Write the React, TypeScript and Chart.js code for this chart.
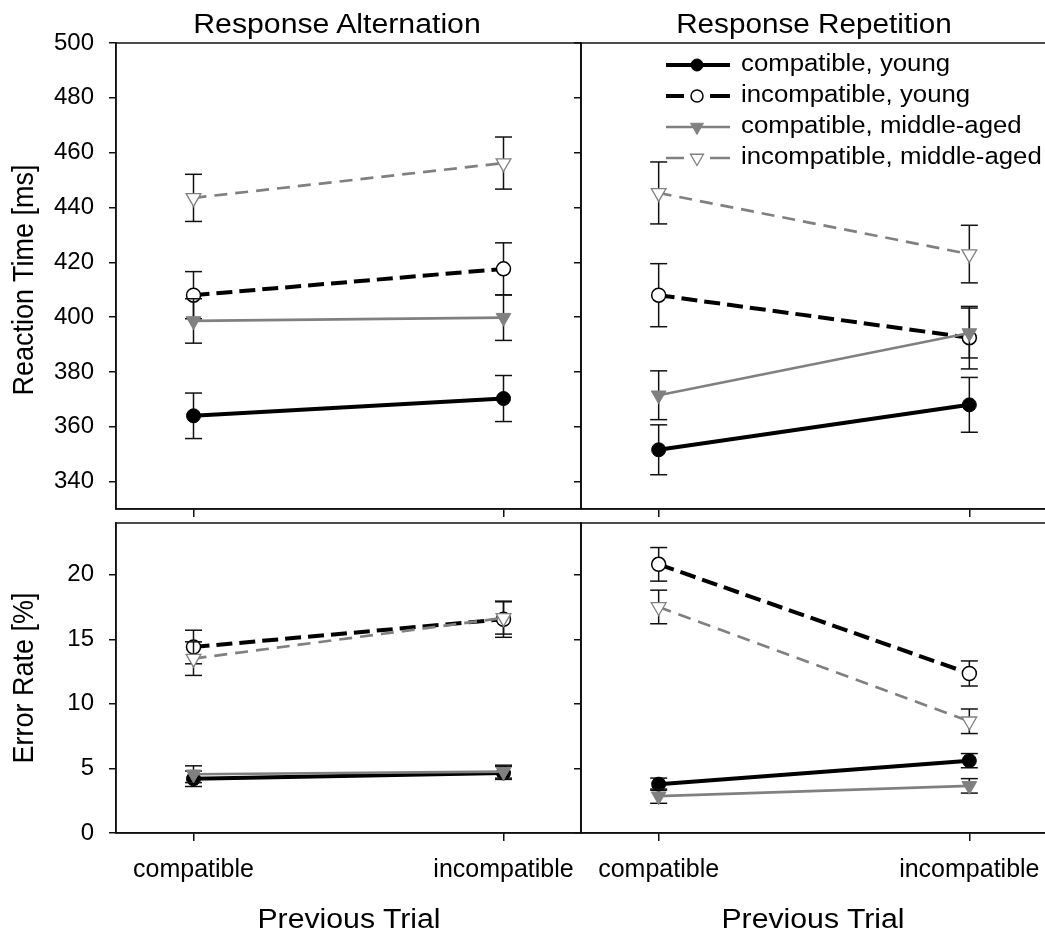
import { useEffect, useRef } from "react";
import { Chart, registerables } from "chart.js";
import { drawPoint } from "chart.js/helpers";

Chart.register(...registerables);

// ---- data -------------------------------------------------------------
const conditions = ["compatible", "incompatible"];
const conditionX = [0, 1];
const seriesLabels = [
  "compatible, young",
  "incompatible, young",
  "compatible, middle-aged",
  "incompatible, middle-aged",
];

// Reaction time [ms] after a response alternation
const rtAltCompYoung = [364.0, 370.3];
const rtAltIncYoung = [408.0, 417.6];
const rtAltCompMid = [398.6, 399.8];
const rtAltIncMid = [443.5, 456.2];
const rtAltCompYoungErr = [8.3, 8.4];
const rtAltIncYoungErr = [8.6, 9.5];
const rtAltCompMidErr = [8.1, 8.3];
const rtAltIncMidErr = [8.6, 9.5];

// Reaction time [ms] after a response repetition
const rtRepCompYoung = [351.6, 368.0];
const rtRepIncYoung = [408.0, 392.5];
const rtRepCompMid = [371.5, 394.2];
const rtRepIncMid = [445.3, 423.0];
const rtRepCompYoungErr = [9.1, 10.0];
const rtRepIncYoungErr = [11.5, 11.4];
const rtRepCompMidErr = [8.9, 9.1];
const rtRepIncMidErr = [11.3, 10.5];

// Error rate [%] after a response alternation
const erAltCompYoung = [4.2, 4.65];
const erAltIncYoung = [14.4, 16.55];
const erAltCompMid = [4.55, 4.75];
const erAltIncMid = [13.5, 16.65];
const erAltCompYoungErr = [0.6, 0.5];
const erAltIncYoungErr = [1.3, 1.4];
const erAltCompMidErr = [0.65, 0.5];
const erAltIncMidErr = [1.3, 1.25];

// Error rate [%] after a response repetition
const erRepCompYoung = [3.78, 5.6];
const erRepIncYoung = [20.8, 12.35];
const erRepCompMid = [2.85, 3.65];
const erRepIncMid = [17.5, 8.65];
const erRepCompYoungErr = [0.47, 0.55];
const erRepIncYoungErr = [1.3, 0.97];
const erRepCompMidErr = [0.55, 0.56];
const erRepIncMidErr = [1.3, 0.95];

const rtTicks = [340, 360, 380, 400, 420, 440, 460, 480, 500];
const erTicks = [0, 5, 10, 15, 20];

const columnTitles = ["Response Alternation", "Response Repetition"];
const rowTitles = ["Reaction Time [ms]", "Error Rate [%]"];
const xTitle = "Previous Trial";

// ---- styling ----------------------------------------------------------
const FONT = '"Liberation Sans", Arial, Helvetica, sans-serif';
const INK = "#111111";
const GRAY = "#808080";

const styles = [
  { color: "#000", width: 4, dash: [] as number[], point: "circle", radius: 7, legendRadius: 6, fill: "#000", pBorder: "#000", pBorderW: 1, rot: 0 },
  { color: "#000", width: 4, dash: [16, 7], point: "circle", radius: 7, legendRadius: 6, fill: "#fff", pBorder: "#000", pBorderW: 1.5, rot: 0 },
  { color: GRAY, width: 2.7, dash: [] as number[], point: "triangle", radius: 8.5, legendRadius: 7.5, fill: GRAY, pBorder: GRAY, pBorderW: 1, rot: 180 },
  { color: GRAY, width: 2.7, dash: [13, 8], point: "triangle", radius: 8.5, legendRadius: 7.5, fill: "#fff", pBorder: GRAY, pBorderW: 1.3, rot: 180 },
];

function buildDatasets(means: number[][], errs: number[][]) {
  const sets: any[] = [];
  means.forEach((m, k) => {
    const s = styles[k];
    const errData: any[] = [];
    conditionX.forEach((x, i) => {
      if (i > 0) errData.push({ x: (conditionX[i - 1] + x) / 2, y: null });
      errData.push({ x, y: m[i] - errs[k][i] }, { x, y: m[i] + errs[k][i] });
    });
    sets.push({
      label: seriesLabels[k] + " (SE)",
      data: errData,
      borderColor: INK,
      borderWidth: 1.5,
      pointStyle: "line",
      pointRadius: 8.5,
      pointBorderColor: INK,
      pointBorderWidth: 1.5,
      spanGaps: false,
      order: 2 * (3 - k) + 2,
    });
    sets.push({
      label: seriesLabels[k],
      data: conditionX.map((x, i) => ({ x, y: m[i] })),
      borderColor: s.color,
      borderWidth: s.width,
      borderDash: s.dash,
      pointStyle: s.point,
      pointRadius: s.radius,
      pointRotation: s.rot,
      pointBackgroundColor: s.fill,
      pointBorderColor: s.pBorder,
      pointBorderWidth: s.pBorderW,
      order: 2 * (3 - k) + 1,
    });
  });
  return sets;
}

const framePlugin = {
  id: "frame",
  afterDraw(chart: any) {
    const { ctx, chartArea: a } = chart;
    ctx.save();
    ctx.strokeStyle = INK;
    ctx.lineWidth = 1.5;
    ctx.strokeRect(a.left, a.top, a.right - a.left, a.bottom - a.top);
    ctx.restore();
  },
};

const keyPlugin = {
  id: "seriesKey",
  afterDraw(chart: any) {
    const { ctx, chartArea: a } = chart;
    seriesLabels.forEach((label, k) => {
      const s = styles[k];
      const y = a.top + 22 + k * 31;
      const x0 = a.left + 85;
      const x1 = a.left + 149;
      const xm = a.left + 116;
      ctx.save();
      ctx.strokeStyle = s.color;
      ctx.lineWidth = s.width;
      ctx.setLineDash([]);
      ctx.beginPath();
      if (s.dash.length) {
        ctx.moveTo(x0, y);
        ctx.lineTo(xm - 13, y);
        ctx.moveTo(xm + 13, y);
        ctx.lineTo(x1, y);
      } else {
        ctx.moveTo(x0, y);
        ctx.lineTo(x1, y);
      }
      ctx.stroke();
      ctx.fillStyle = s.fill;
      ctx.strokeStyle = s.pBorder;
      ctx.lineWidth = s.pBorderW;
      drawPoint(ctx, { pointStyle: s.point as any, radius: s.legendRadius, rotation: s.rot, borderWidth: s.pBorderW }, xm, y);
      ctx.restore();

      ctx.save();
      ctx.font = `23px ${FONT}`;
      ctx.fillStyle = "#000";
      ctx.textBaseline = "middle";
      ctx.translate(a.left + 160, y);
      ctx.scale(1.12, 1);
      ctx.fillText(label, 0, 0);
      ctx.restore();
    });
  },
};

type Area = { left: number; top: number; right: number; bottom: number };

type PanelProps = {
  x: number;
  y: number;
  w: number;
  h: number;
  area: Area;
  means: number[][];
  errs: number[][];
  yMin: number;
  yMax: number;
  yTicks: number[];
  yLabels: boolean;
  xLabels: boolean;
  showKey?: boolean;
};

function Panel(p: PanelProps) {
  const ref = useRef<HTMLCanvasElement | null>(null);
  useEffect(() => {
    if (!ref.current) return;
    const chart = new Chart(ref.current, {
      type: "line",
      data: { datasets: buildDatasets(p.means, p.errs) },
      plugins: p.showKey ? [framePlugin, keyPlugin] : [framePlugin],
      options: {
        animation: false,
        responsive: false,
        maintainAspectRatio: false,
        devicePixelRatio: 1,
        events: [],
        layout: {
          padding: { left: 0, top: p.area.top - p.y, right: p.x + p.w - p.area.right, bottom: 0 },
        },
        plugins: { legend: { display: false }, tooltip: { enabled: false } },
        scales: {
          x: {
            type: "linear",
            min: -0.25,
            max: 1.25,
            afterBuildTicks: (s: any) => {
              s.ticks = conditionX.map((v) => ({ value: v }));
            },
            afterFit: (s: any) => {
              s.height = p.y + p.h - p.area.bottom;
              s.paddingLeft = 0;
              s.paddingRight = 0;
            },
            ticks: {
              display: p.xLabels,
              autoSkip: false,
              maxRotation: 0,
              padding: 14,
              color: "#000",
              font: { family: FONT, size: 25 },
              callback: (_v: any, i: number) => conditions[i],
            },
            grid: { display: true, drawOnChartArea: false, drawTicks: true, tickLength: 8, color: INK, lineWidth: 1.5 },
            border: { display: true, color: INK, width: 1.5 },
          },
          y: {
            type: "linear",
            min: p.yMin,
            max: p.yMax,
            afterBuildTicks: (s: any) => {
              s.ticks = p.yTicks.map((v) => ({ value: v }));
            },
            afterFit: (s: any) => {
              s.width = p.area.left - p.x;
              s.paddingTop = 0;
              s.paddingBottom = 0;
            },
            ticks: {
              display: p.yLabels,
              padding: 15,
              color: "#000",
              font: { family: FONT, size: 24 },
            },
            grid: { display: true, drawOnChartArea: false, drawTicks: true, tickLength: 7, color: INK, lineWidth: 1.5 },
            border: { display: true, color: INK, width: 1.5 },
          },
        },
      } as any,
    });
    return () => chart.destroy();
  }, []);
  return (
    <canvas
      ref={ref}
      width={p.w}
      height={p.h}
      style={{ position: "absolute", left: p.x, top: p.y, width: p.w, height: p.h }}
    />
  );
}

function Label(props: { x: number; y: number; size: number; vertical?: boolean; stretch: number; text: string }) {
  const t = props.vertical
    ? `translate(-50%, -50%) rotate(-90deg) scaleY(${props.stretch})`
    : `translate(-50%, -50%) scaleX(${props.stretch})`;
  return (
    <div
      style={{
        position: "absolute",
        left: props.x,
        top: props.y,
        fontFamily: FONT,
        fontSize: props.size,
        lineHeight: 1,
        whiteSpace: "nowrap",
        color: "#000",
        transform: t,
      }}
    >
      {props.text}
    </div>
  );
}

export default function App() {
  const rtAlt = [rtAltCompYoung, rtAltIncYoung, rtAltCompMid, rtAltIncMid];
  const rtAltE = [rtAltCompYoungErr, rtAltIncYoungErr, rtAltCompMidErr, rtAltIncMidErr];
  const rtRep = [rtRepCompYoung, rtRepIncYoung, rtRepCompMid, rtRepIncMid];
  const rtRepE = [rtRepCompYoungErr, rtRepIncYoungErr, rtRepCompMidErr, rtRepIncMidErr];
  const erAlt = [erAltCompYoung, erAltIncYoung, erAltCompMid, erAltIncMid];
  const erAltE = [erAltCompYoungErr, erAltIncYoungErr, erAltCompMidErr, erAltIncMidErr];
  const erRep = [erRepCompYoung, erRepIncYoung, erRepCompMid, erRepIncMid];
  const erRepE = [erRepCompYoungErr, erRepIncYoungErr, erRepCompMidErr, erRepIncMidErr];

  return (
    <div
      style={{
        position: "fixed",
        left: 0,
        top: 0,
        width: 1045,
        height: 933,
        overflow: "hidden",
        background: "#fff",
      }}
    >
      <Panel x={0} y={0} w={600} h={523} area={{ left: 116, top: 43, right: 581, bottom: 509 }}
        means={rtAlt} errs={rtAltE} yMin={330} yMax={500} yTicks={rtTicks} yLabels={true} xLabels={false} />
      <Panel x={540} y={0} w={520} h={523} area={{ left: 581, top: 43, right: 1047, bottom: 509 }}
        means={rtRep} errs={rtRepE} yMin={330} yMax={500} yTicks={rtTicks} yLabels={false} xLabels={false} showKey={true} />
      <Panel x={0} y={500} w={600} h={433} area={{ left: 116, top: 523, right: 581, bottom: 833 }}
        means={erAlt} errs={erAltE} yMin={0} yMax={24} yTicks={erTicks} yLabels={true} xLabels={true} />
      <Panel x={540} y={500} w={520} h={433} area={{ left: 581, top: 523, right: 1047, bottom: 833 }}
        means={erRep} errs={erRepE} yMin={0} yMax={24} yTicks={erTicks} yLabels={false} xLabels={true} />

      <Label x={337} y={24} size={27} stretch={1.12} text={columnTitles[0]} />
      <Label x={814} y={24} size={27} stretch={1.1} text={columnTitles[1]} />
      <Label x={23} y={280} size={27} stretch={1.12} vertical={true} text={rowTitles[0]} />
      <Label x={23} y={678} size={27} stretch={1.12} vertical={true} text={rowTitles[1]} />
      <Label x={349} y={919} size={27} stretch={1.12} text={xTitle} />
      <Label x={813} y={919} size={27} stretch={1.12} text={xTitle} />
    </div>
  );
}
